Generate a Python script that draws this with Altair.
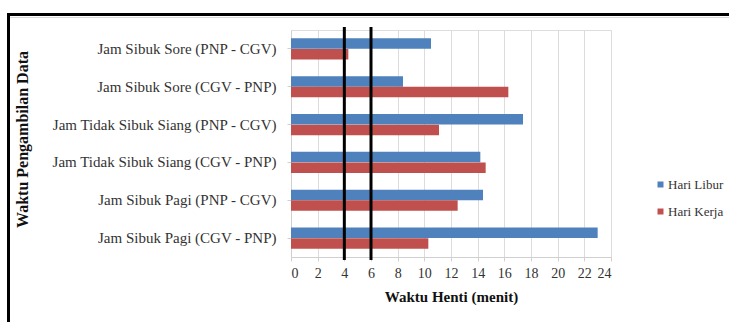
import altair as alt
import pandas as pd

categories = [
    "Jam Sibuk Sore (PNP - CGV)",
    "Jam Sibuk Sore (CGV - PNP)",
    "Jam Tidak Sibuk Siang (PNP - CGV)",
    "Jam Tidak Sibuk Siang (CGV - PNP)",
    "Jam Sibuk Pagi (PNP - CGV)",
    "Jam Sibuk Pagi (CGV - PNP)",
]
series_names = ["Hari Libur", "Hari Kerja"]
hari_libur = [10.5, 8.4, 17.4, 14.2, 14.4, 23.0]
hari_kerja = [4.3, 16.3, 11.1, 14.6, 12.5, 10.3]
ref_lines = [4, 6]
x_ticks = list(range(0, 26, 2))
colors = ["#4F81BD", "#C0504D"]

rows = []
for c, a, b in zip(categories, hari_libur, hari_kerja):
    rows.append({"cat": c, "series": "Hari Libur", "val": a})
    rows.append({"cat": c, "series": "Hari Kerja", "val": b})
df = pd.DataFrame(rows)

FONT = "Liberation Serif"

x_axis = alt.Axis(values=x_ticks, title="Waktu  Henti (menit)",
                  titleFont=FONT, titleFontSize=15, titleFontWeight="bold",
                  titleColor="#111", titlePadding=9,
                  labelFont=FONT, labelFontSize=14, labelColor="#333",
                  labelPadding=5, labelOverlap=False,
                  grid=True, gridColor="#dcdcdc", domainColor="#d0d0d0",
                  tickColor="#d0d0d0", tickSize=4)
x_scale = alt.Scale(domain=[0, 24], nice=False)

bars = alt.Chart(df).mark_bar(size=10.5).encode(
    x=alt.X("val:Q", scale=x_scale, axis=x_axis),
    y=alt.Y("cat:N", sort=categories,
            scale=alt.Scale(paddingInner=0.44, paddingOuter=0.22),
            axis=alt.Axis(title="Waktu  Pengambilan Data",
                          titleFont=FONT, titleFontSize=16, titleFontWeight="bold",
                          titleColor="#111", titleX=-269, titleY=109,
                          titleAlign="center", titleBaseline="middle",
                          labelFont=FONT, labelFontSize=15, labelColor="#333",
                          labelPadding=11, labelLimit=300,
                          domainColor="#d0d0d0", tickColor="#d0d0d0", tickSize=4)),
    yOffset=alt.YOffset("series:N", sort=series_names),
    color=alt.Color("series:N", sort=series_names,
                    scale=alt.Scale(domain=series_names, range=colors),
                    legend=alt.Legend(orient="none", legendX=363, legendY=148,
                                      title=None, symbolType="square",
                                      symbolSize=36, labelFont=FONT,
                                      labelFontSize=13, labelColor="#333",
                                      rowPadding=13, labelOffset=1)),
)

refs = alt.Chart(pd.DataFrame({"v": ref_lines})).mark_rule(
    color="#000", strokeWidth=3
).encode(
    x=alt.X("v:Q", scale=x_scale, axis=x_axis),
    y=alt.value(-3),
    y2=alt.value(230),
)

frame_df = pd.DataFrame({"k": [0]})
top_border = alt.Chart(frame_df).mark_rule(color="#000", strokeWidth=3).encode(
    x=alt.value(-284), x2=alt.value(438), y=alt.value(-15.5)
)
left_border = alt.Chart(frame_df).mark_rule(color="#000", strokeWidth=3).encode(
    x=alt.value(-282.5), y=alt.value(-17), y2=alt.value(292)
)
inner_top = alt.Chart(frame_df).mark_rule(color="#d8d8d8", strokeWidth=1).encode(
    x=alt.value(-281), x2=alt.value(438), y=alt.value(-12.5)
)

chart = alt.layer(bars, refs, top_border, left_border, inner_top).properties(
    width=320,
    height=227,
    autosize=alt.AutoSizeParams(type="none"),
    padding={"left": 291, "top": 30, "right": 118, "bottom": 65},
).configure_view(stroke=None).configure(background="white")

chart.save("out.html", embed_options={"renderer": "svg", "actions": False})
